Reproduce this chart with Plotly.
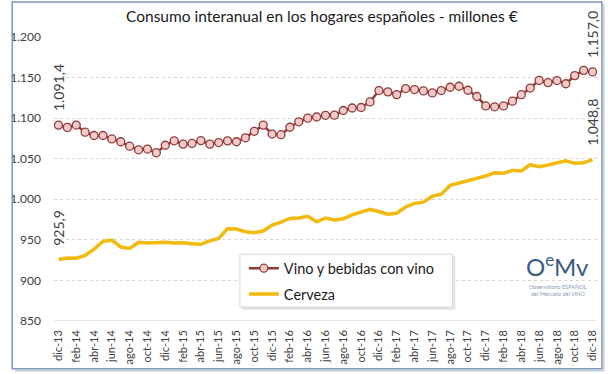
import plotly.graph_objects as go

# ---------------- data ----------------
months = ["ene", "feb", "mar", "abr", "may", "jun", "jul", "ago", "sep", "oct", "nov", "dic"]
periods = ["dic-13"] + [f"{m}-{y}" for y in ["14", "15", "16", "17", "18"] for m in months]

vino = [1091.4, 1088.6, 1091.5, 1082.7, 1078.6, 1078.6, 1074.4, 1070.9, 1065.4, 1061.0,
        1061.9, 1057.4, 1066.6, 1072.1, 1068.0, 1068.8, 1072.3, 1068.0, 1069.9, 1072.0,
        1070.9, 1075.8, 1083.8, 1091.4, 1080.4, 1079.6, 1088.8, 1095.5, 1100.0, 1101.4,
        1103.5, 1103.7, 1109.4, 1112.5, 1113.1, 1120.0, 1134.0, 1132.4, 1129.0, 1136.5,
        1135.2, 1133.6, 1131.1, 1134.0, 1138.1, 1139.3, 1134.4, 1126.7, 1115.0, 1114.0,
        1115.0, 1120.9, 1128.9, 1137.1, 1146.5, 1143.8, 1146.3, 1142.4, 1152.4, 1158.9,
        1157.0]

cerveza = [925.9, 927.7, 927.3, 930.9, 938.5, 948.2, 949.6, 941.2, 939.5, 946.9,
           946.1, 946.5, 946.9, 946.1, 946.3, 945.3, 944.5, 948.8, 951.8, 963.8,
           963.3, 960.0, 958.8, 960.9, 968.3, 971.9, 976.4, 977.0, 979.0, 972.3,
           976.8, 974.6, 976.0, 980.9, 984.2, 987.5, 985.0, 981.6, 982.8, 990.5,
           995.0, 996.5, 1003.8, 1006.3, 1017.1, 1019.8, 1023.6, 1025.7, 1028.7, 1032.8,
           1032.0, 1035.7, 1034.8, 1042.6, 1040.2, 1042.2, 1045.1, 1047.5, 1044.3, 1045.1,
           1048.8]

y_tickvals = [850, 900, 950, 1000, 1050, 1100, 1150, 1200]
y_ticktext = ["850", "900", "950", "1.000", "1.050", "1.100", "1.150", "1.200"]

series_names = ["Vino y bebidas con vino", "Cerveza"]
title_text = "Consumo interanual en los hogares españoles - millones €"
logo_text = "O<sup>e</sup>Mv"
logo_sub = ["Observatorio ESPAÑOL", "del Mercado del VINO"]

# ---------------- helpers ----------------
def es_fmt(v):
    s = f"{v:,.1f}"
    return s.replace(",", "X").replace(".", ",").replace("X", ".")

x = list(range(len(periods)))
FONT = "Lato"
W, H = 608, 374
ML, MR, MT, MB = 46, 10, 37, 52
PW, PH = W - ML - MR, H - MT - MB

def px_x(p):
    return (p - ML) / PW

def px_y(p):
    return (H - MB - p) / PH

fig = go.Figure()

# beer first so that wine is drawn on top
fig.add_trace(go.Scatter(
    x=x, y=cerveza, name=series_names[1], mode="lines", legendrank=2,
    legendgroup="cerveza",
    line=dict(color="#F2B90F", width=3.5),
))
fig.add_trace(go.Scatter(
    x=x, y=vino, name=series_names[0], mode="lines+markers", legendrank=1,
    legendgroup="vino",
    line=dict(color="#8E3B3B", width=2.5),
    marker=dict(symbol="circle", size=8, color="#F6C9C9",
                line=dict(color="#8E3B3B", width=1.3)),
))

annots = []
for series in (vino, cerveza):
    for idx in (0, len(series) - 1):
        annots.append(dict(
            x=x[idx], y=series[idx], xref="x", yref="y",
            text=es_fmt(series[idx]), textangle=-90, showarrow=False,
            xanchor="center", yanchor="bottom", yshift=12,
            font=dict(family=FONT, size=14, color="#404040"),
        ))

# logo
annots.append(dict(
    x=px_x(558), y=px_y(283.5), xref="paper", yref="paper",
    text=logo_text, showarrow=False, xanchor="center", yanchor="bottom",
    font=dict(family=FONT, size=24, color="#3B5B7C"),
))
for i, line in enumerate(logo_sub):
    annots.append(dict(
        x=px_x(558), y=px_y(287.5 + 7 * i), xref="paper", yref="paper",
        text=line, showarrow=False, xanchor="center", yanchor="middle",
        font=dict(family=FONT, size=5.5, color="#8A9BB0"),
    ))

# title
annots.append(dict(
    x=px_x(318), y=px_y(16), xref="paper", yref="paper",
    text=title_text, showarrow=False, xanchor="center", yanchor="middle",
    font=dict(family=FONT, size=15.5, color="#1A1A1A"),
))

shapes = [
    # solid base line
    dict(type="line", xref="paper", yref="y", x0=0, x1=1,
         y0=y_tickvals[0], y1=y_tickvals[0],
         line=dict(color="#D0D0D0", width=1.2), layer="below"),
    # legend shadow and box
    dict(type="rect", xref="paper", yref="paper",
         x0=px_x(237), x1=px_x(454), y0=px_y(311), y1=px_y(257),
         fillcolor="rgba(0,0,0,0.10)", line=dict(width=0), layer="above"),
    dict(type="rect", xref="paper", yref="paper",
         x0=px_x(235), x1=px_x(451), y0=px_y(308), y1=px_y(255),
         fillcolor="white", line=dict(color="#D6D6D6", width=1), layer="above"),
    # chart frame
    dict(type="rect", xref="paper", yref="paper",
         x0=px_x(3.5), x1=px_x(603), y0=px_y(370), y1=px_y(2),
         line=dict(color="#7F97B5", width=1.5), layer="above"),
    dict(type="line", xref="paper", yref="paper",
         x0=px_x(605), x1=px_x(605), y0=px_y(372), y1=px_y(4),
         line=dict(color="#C3CFDD", width=1.5), layer="above"),
    dict(type="line", xref="paper", yref="paper",
         x0=px_x(6), x1=px_x(605), y0=px_y(372), y1=px_y(372),
         line=dict(color="#C3CFDD", width=1.5), layer="above"),
]

fig.update_layout(
    width=W, height=H,
    margin=dict(l=ML, r=MR, t=MT, b=MB),
    paper_bgcolor="white", plot_bgcolor="white",
    showlegend=True,
    legend=dict(
        x=px_x(239), y=px_y(253), xanchor="left", yanchor="top",
        bgcolor="rgba(0,0,0,0)", borderwidth=0,
        font=dict(family=FONT, size=14.5, color="#1A1A1A"),
        traceorder="grouped", itemwidth=30, tracegroupgap=4,
    ),
    annotations=annots,
    shapes=shapes,
    font=dict(family=FONT, color="#404040"),
)

fig.update_xaxes(
    range=[-0.5, len(periods) - 0.5],
    tickvals=x[::2], ticktext=periods[::2], tickangle=-90,
    showgrid=False, zeroline=False,
    showline=False, ticks="", ticklabelstandoff=6,
    tickfont=dict(family=FONT, size=11, color="#404040"),
)
fig.update_yaxes(
    range=[850, 1200],
    tickvals=y_tickvals, ticktext=y_ticktext,
    showgrid=True, gridcolor="#D4D4D4", griddash="dot", gridwidth=1,
    zeroline=False, showline=False, ticks="", ticklabelstandoff=12,
    tickfont=dict(family=FONT, size=12, color="#404040"),
)

fig.write_html("out.html", config={"displayModeBar": False},
               post_script="document.body.style.margin='0';")
